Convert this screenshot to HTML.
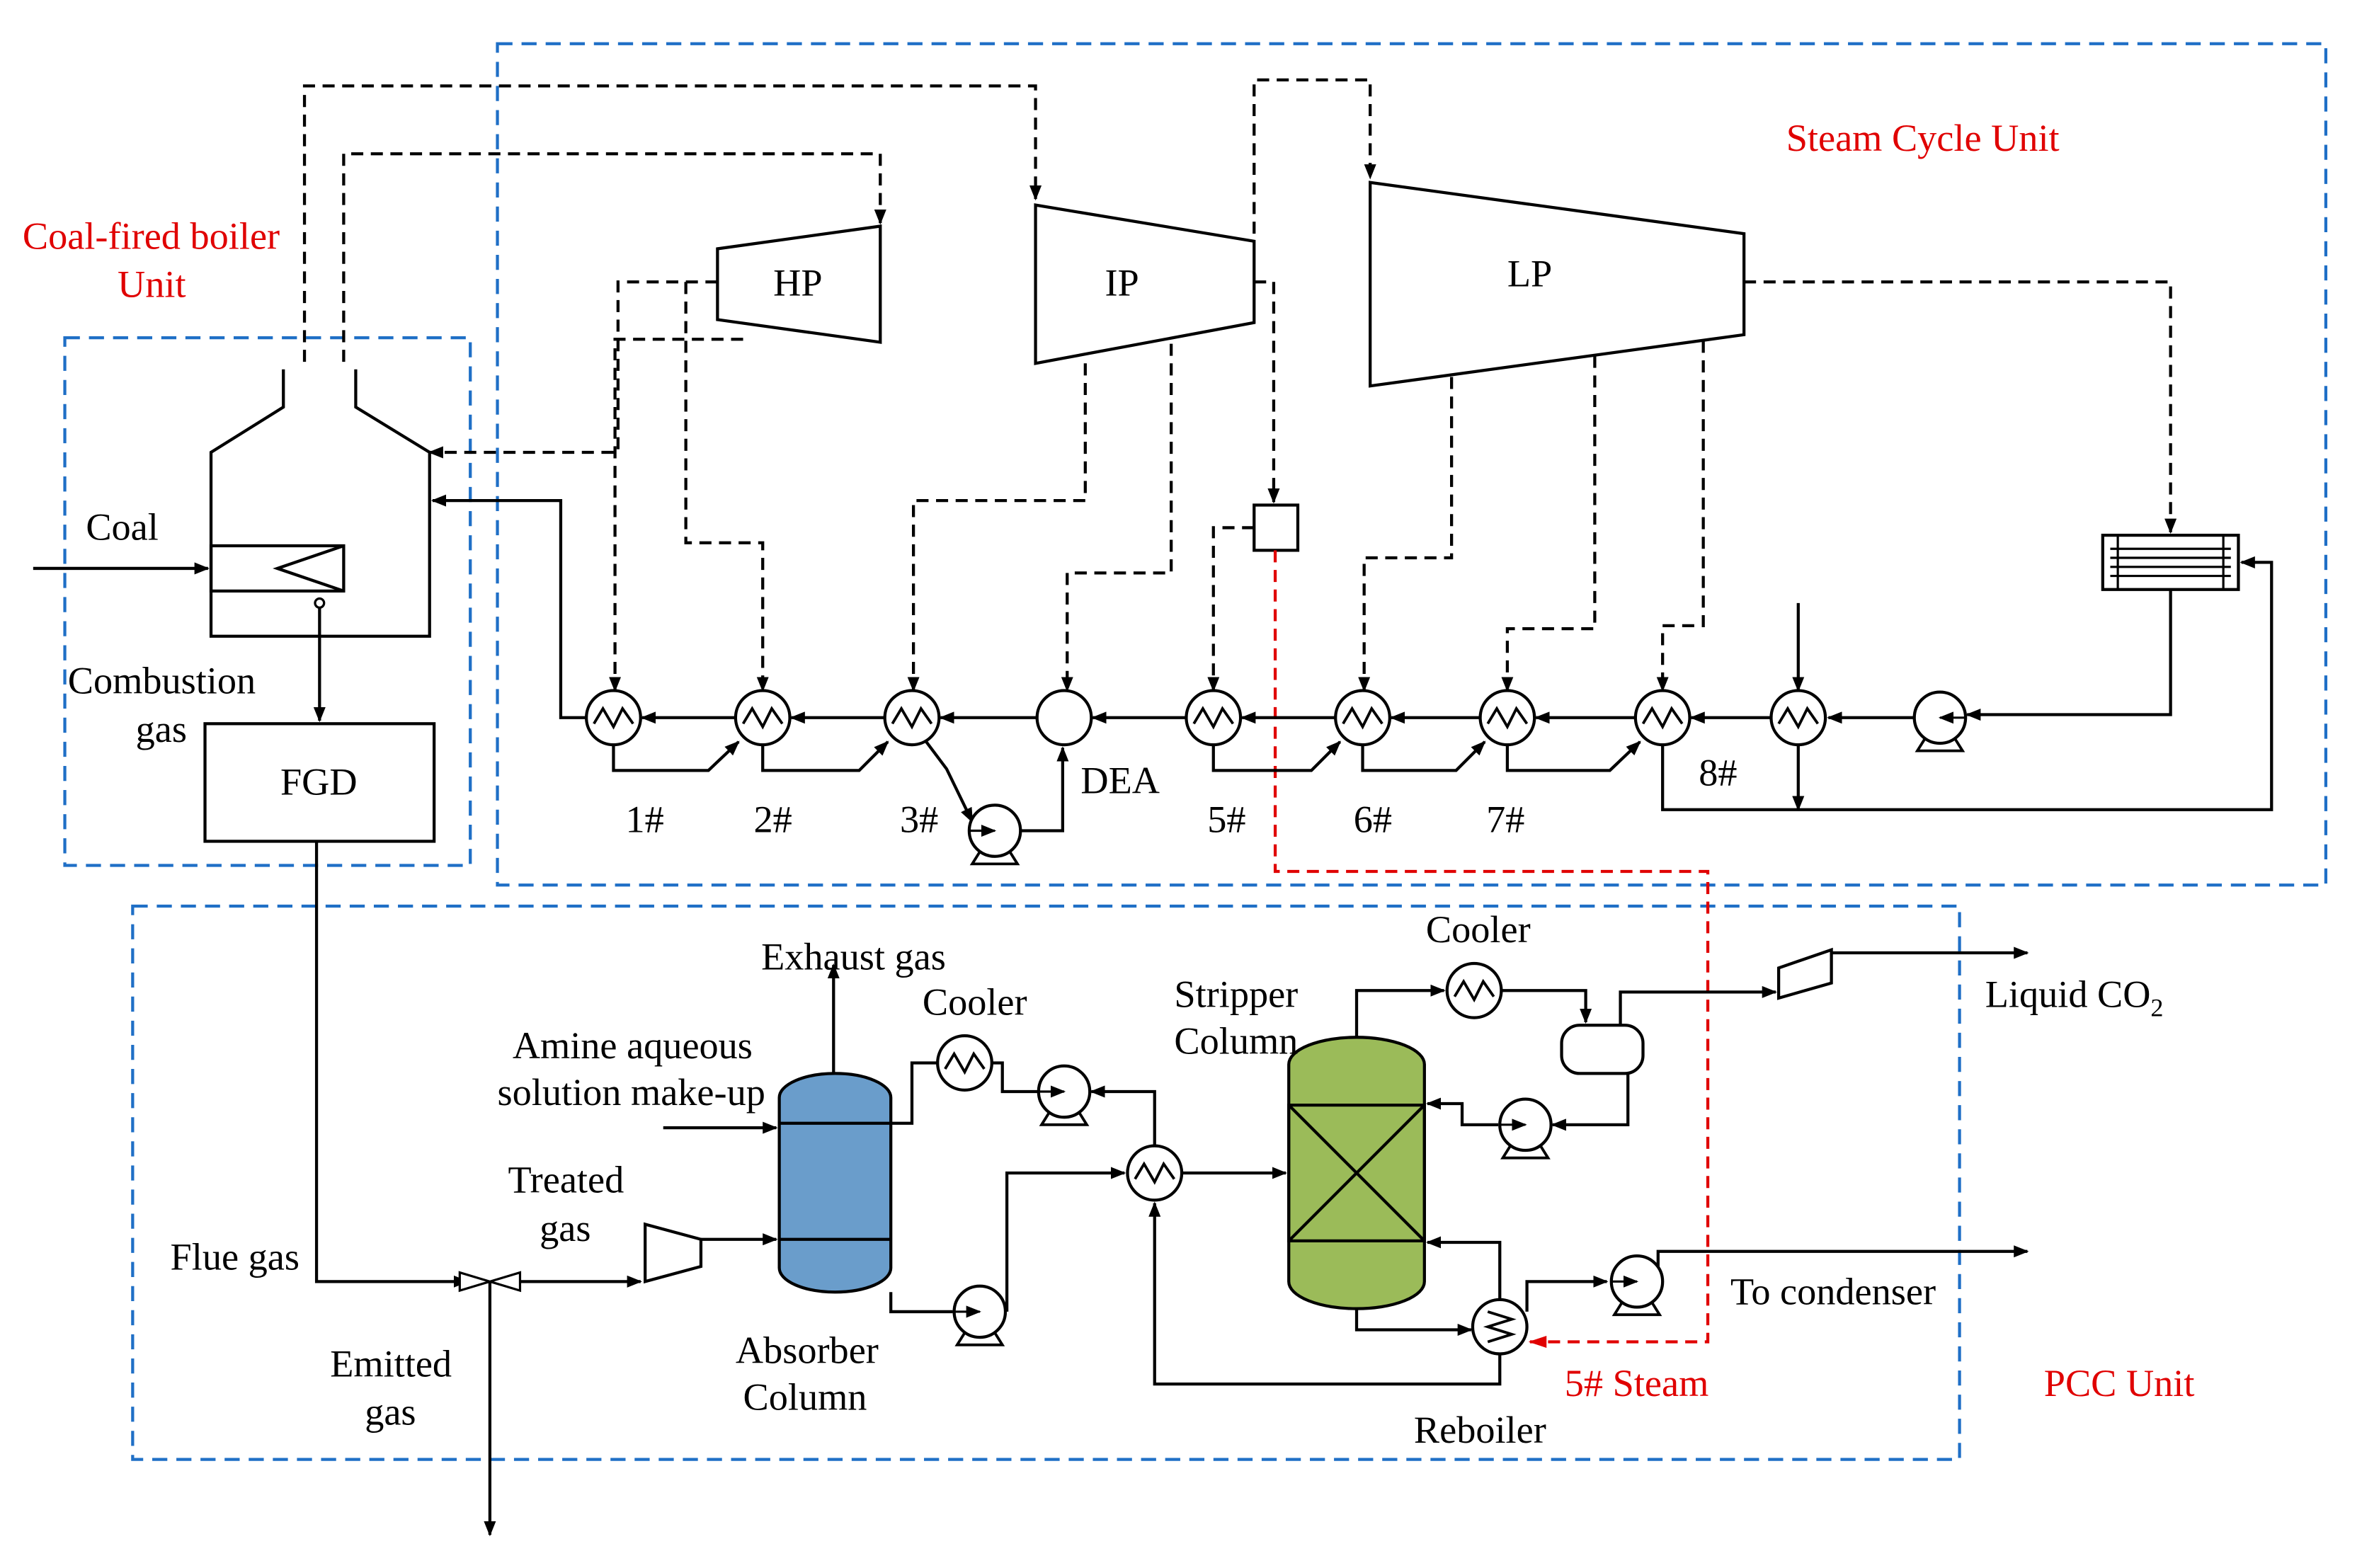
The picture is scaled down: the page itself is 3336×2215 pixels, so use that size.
<!DOCTYPE html>
<html><head><meta charset="utf-8"><style>
html,body{margin:0;padding:0;background:#fff;}
svg{display:block;}
text{font-family:"Liberation Serif",serif;font-size:25.5px;fill:#000;}
.r{fill:#e00000;}
</style></head><body>
<svg width="3336" height="2215" viewBox="0 0 1567 1040" preserveAspectRatio="none" xmlns="http://www.w3.org/2000/svg">
<defs>
<marker id="a" markerWidth="10" markerHeight="8" refX="9" refY="4" orient="auto" markerUnits="userSpaceOnUse"><path d="M0,0 L10,4 L0,8 z" fill="#000"/></marker>
<marker id="ar" markerWidth="12" markerHeight="8" refX="11" refY="4" orient="auto" markerUnits="userSpaceOnUse"><path d="M0,0 L12,4 L0,8 z" fill="#e00000"/></marker>
<g id="hx"><circle r="18" fill="#fff" stroke="#000" stroke-width="2"/><path d="M-13,4 L-7,-6 L0,6 L6,-6 L13,4" fill="none" stroke="#000" stroke-width="1.8"/></g>
<g id="pump"><path d="M-10,14 L-15,22 L15,22 L10,14" fill="#fff" stroke="#000" stroke-width="1.8"/><circle r="17" fill="#fff" stroke="#000" stroke-width="2"/><path d="M-17,0 L0,0" stroke="#000" stroke-width="1.5" marker-end="url(#a)"/></g>
</defs>
<rect width="1567" height="1040" fill="#fff"/>
<g fill="none" stroke="#1f6fc6" stroke-width="2" stroke-dasharray="10,6">
<rect x="330" y="29" width="1213" height="558"/>
<rect x="43" y="224" width="269" height="350"/>
<rect x="88" y="601" width="1212" height="367"/>
</g>
<text class="r" x="1185" y="100">Steam Cycle Unit</text>
<text class="r" x="15" y="165">Coal-fired boiler</text>
<text class="r" x="78" y="197">Unit</text>
<text class="r" x="1356" y="926">PCC Unit</text>

<g fill="none" stroke="#000" stroke-width="2">
<path d="M188,245 L188,270 L140,300 L140,422 L285,422 L285,300 L236,270 L236,245"/>
<rect x="140" y="362" width="88" height="30"/>
<path d="M228,362 L184,377 L228,392"/>
<rect x="136" y="480" width="152" height="78"/>
<path d="M476,165 L584,150 L584,227 L476,212 Z"/>
<path d="M687,136 L832,160 L832,214 L687,241 Z"/>
<path d="M909,121 L1157,155 L1157,222 L909,256 Z"/>
<rect x="832" y="335" width="29" height="30"/>
<rect x="1395" y="355" width="90" height="36"/>
<path d="M1400,364 L1480,364 M1400,370 L1480,370 M1400,376 L1480,376 M1400,382 L1480,382" stroke-width="1.5"/>
<rect x="1405" y="355" width="70" height="36" stroke-width="1.5"/>
</g>
<text x="513" y="196">HP</text>
<text x="733" y="196">IP</text>
<text x="1000" y="190">LP</text>
<text x="186" y="527">FGD</text>

<g fill="none" stroke="#000" stroke-width="2" stroke-dasharray="8,5">
<path d="M202,240 L202,57 L687,57 L687,132" marker-end="url(#a)"/>
<path d="M228,240 L228,102 L584,102 L584,148" marker-end="url(#a)"/>
<path d="M476,187 L410,187 L410,300 L285,300" marker-end="url(#a)"/>
<path d="M493,225 L408,225 L408,458" marker-end="url(#a)"/>
<path d="M455,187 L455,360 L506,360 L506,458" marker-end="url(#a)"/>
<path d="M720,241 L720,332 L606,332 L606,458" marker-end="url(#a)"/>
<path d="M777,228 L777,380 L708,380 L708,458" marker-end="url(#a)"/>
<path d="M832,187 L845,187 L845,333" marker-end="url(#a)"/>
<path d="M832,350 L805,350 L805,458" marker-end="url(#a)"/>
<path d="M832,155 L832,53 L909,53 L909,118" marker-end="url(#a)"/>
<path d="M963,250 L963,370 L905,370 L905,458" marker-end="url(#a)"/>
<path d="M1058,236 L1058,417 L1000,417 L1000,458" marker-end="url(#a)"/>
<path d="M1130,226 L1130,415 L1103,415 L1103,458" marker-end="url(#a)"/>
<path d="M1157,187 L1440,187 L1440,353" marker-end="url(#a)"/>
</g>
<path d="M846,365 L846,578 L1133,578 L1133,890 L1015,890" fill="none" stroke="#e00000" stroke-width="2" stroke-dasharray="8,5" marker-end="url(#ar)"/>

<g fill="none" stroke="#000" stroke-width="2">
<path d="M22,377 L138,377" marker-end="url(#a)"/>
<path d="M212,400 L212,478" marker-end="url(#a)"/>
<path d="M1103,494 L1103,537 L1507,537 L1507,373 L1487,373" marker-end="url(#a)"/>
<path d="M1193,400 L1193,458" marker-end="url(#a)"/>
<path d="M1193,494 L1193,537" marker-end="url(#a)"/>
<path d="M1440,391 L1440,474 L1305,474" marker-end="url(#a)"/>
<path d="M1270,476 L1213,476" marker-end="url(#a)"/>
<path d="M1175,476 L1122,476" marker-end="url(#a)"/>
<path d="M1085,476 L1019,476" marker-end="url(#a)"/>
<path d="M982,476 L923,476" marker-end="url(#a)"/>
<path d="M886,476 L824,476" marker-end="url(#a)"/>
<path d="M787,476 L725,476" marker-end="url(#a)"/>
<path d="M688,476 L624,476" marker-end="url(#a)"/>
<path d="M587,476 L525,476" marker-end="url(#a)"/>
<path d="M488,476 L426,476" marker-end="url(#a)"/>
<path d="M389,476 L372,476 L372,332 L287,332" marker-end="url(#a)"/>
<path d="M407,494 L407,511 L470,511 L490,492" marker-end="url(#a)"/>
<path d="M506,494 L506,511 L570,511 L589,492" marker-end="url(#a)"/>
<path d="M613,490 L628,510 L645,545" marker-end="url(#a)"/>
<path d="M677,551 L705,551 L705,496" marker-end="url(#a)"/>
<path d="M805,494 L805,511 L870,511 L889,492" marker-end="url(#a)"/>
<path d="M904,494 L904,511 L966,511 L985,492" marker-end="url(#a)"/>
<path d="M1000,494 L1000,511 L1068,511 L1088,492" marker-end="url(#a)"/>
</g>
<circle cx="212" cy="400" r="3" fill="#fff" stroke="#000" stroke-width="1.5"/>
<use href="#hx" x="407" y="476"/><use href="#hx" x="506" y="476"/><use href="#hx" x="605" y="476"/>
<circle cx="706" cy="476" r="18" fill="#fff" stroke="#000" stroke-width="2"/>
<use href="#hx" x="805" y="476"/><use href="#hx" x="904" y="476"/><use href="#hx" x="1000" y="476"/>
<use href="#hx" x="1103" y="476"/><use href="#hx" x="1193" y="476"/>
<g transform="translate(1287,476) scale(-1,1)"><use href="#pump"/></g>
<g transform="translate(660,551)"><use href="#pump"/></g>
<text x="415" y="552">1#</text><text x="500" y="552">2#</text><text x="597" y="552">3#</text>
<text x="717" y="526">DEA</text><text x="801" y="552">5#</text><text x="898" y="552">6#</text>
<text x="986" y="552">7#</text><text x="1127" y="521">8#</text>
<text x="57" y="358">Coal</text>
<text x="45" y="460">Combustion</text><text x="90" y="492">gas</text>

<g fill="none" stroke="#000" stroke-width="2">
<path d="M210,558 L210,850 L310,850" marker-end="url(#a)"/>
<path d="M325,850 L325,1018" marker-end="url(#a)"/>
<path d="M340,850 L425,850" marker-end="url(#a)"/>
<path d="M428,812 L465,822 L465,840 L428,850 Z"/>
<path d="M465,822 L515,822" marker-end="url(#a)"/>
<path d="M553,712 L553,640" marker-end="url(#a)"/>
<path d="M440,748 L515,748" marker-end="url(#a)"/>
<path d="M591,745 L605,745 L605,705 L622,705"/>
<path d="M658,705 L665,705 L665,724 L690,724"/>
<path d="M766,760 L766,724 L724,724" marker-end="url(#a)"/>
<path d="M591,857 L591,870 L632,870"/>
<path d="M668,870 L668,778 L746,778" marker-end="url(#a)"/>
<path d="M784,778 L853,778" marker-end="url(#a)"/>
<path d="M995,898 L995,918 L766,918 L766,798" marker-end="url(#a)"/>
<path d="M900,688 L900,657 L958,657" marker-end="url(#a)"/>
<path d="M996,657 L1052,657 L1052,678" marker-end="url(#a)"/>
<path d="M1080,712 L1080,746 L1030,746" marker-end="url(#a)"/>
<path d="M994,746 L970,746 L970,732 L947,732" marker-end="url(#a)"/>
<path d="M1075,680 L1075,658 L1178,658" marker-end="url(#a)"/>
<path d="M1180,642 L1215,630 L1215,652 L1180,662 Z"/>
<path d="M1215,632 L1345,632" marker-end="url(#a)"/>
<path d="M900,868 L900,882 L976,882" marker-end="url(#a)"/>
<path d="M995,862 L995,824 L947,824" marker-end="url(#a)"/>
<path d="M1013,870 L1013,850 L1066,850" marker-end="url(#a)"/>
<path d="M1100,840 L1100,830 L1345,830" marker-end="url(#a)"/>
</g>
<path d="M305,844 L325,850 L305,856 Z M345,844 L325,850 L345,856 Z" fill="#fff" stroke="#000" stroke-width="1.5"/>
<rect x="517" y="712" width="74" height="145" rx="37" ry="16" fill="#6a9dcb" stroke="#000" stroke-width="2"/>
<path d="M517,745 L591,745 M517,822 L591,822" stroke="#000" stroke-width="2"/>
<rect x="855" y="688" width="90" height="180" rx="45" ry="18" fill="#9bbb59" stroke="#000" stroke-width="2"/>
<path d="M855,733 L945,733 L945,823 L855,823 Z M855,733 L945,823 M945,733 L855,823" fill="none" stroke="#000" stroke-width="2"/>
<rect x="1036" y="680" width="54" height="32" rx="12" fill="#fff" stroke="#000" stroke-width="2"/>
<use href="#hx" x="640" y="705"/><use href="#hx" x="766" y="778"/><use href="#hx" x="978" y="657"/>
<g transform="translate(995,880)"><circle r="18" fill="#fff" stroke="#000" stroke-width="2"/><path d="M-8,-10 L8,-5 L-8,0 L8,5 L-8,10" fill="none" stroke="#000" stroke-width="1.8"/></g>
<g transform="translate(706,724)"><use href="#pump"/></g>
<g transform="translate(650,870)"><use href="#pump"/></g>
<g transform="translate(1012,746)"><use href="#pump"/></g>
<g transform="translate(1086,850)"><use href="#pump"/></g>

<text x="505" y="643">Exhaust gas</text>
<text x="612" y="673">Cooler</text>
<text x="946" y="625">Cooler</text>
<text x="779" y="668">Stripper</text><text x="779" y="699">Column</text>
<text x="340" y="702">Amine aqueous</text><text x="330" y="733">solution make-up</text>
<text x="337" y="791">Treated</text><text x="358" y="823">gas</text>
<text x="113" y="842">Flue gas</text>
<text x="219" y="913">Emitted</text><text x="242" y="945">gas</text>
<text x="488" y="904">Absorber</text><text x="493" y="935">Column</text>
<text x="938" y="957">Reboiler</text>
<text class="r" x="1038" y="926">5# Steam</text>
<text x="1148" y="865">To condenser</text>
<text x="1317" y="668">Liquid CO<tspan font-size="17" dy="6">2</tspan></text>
</svg>
</body></html>
